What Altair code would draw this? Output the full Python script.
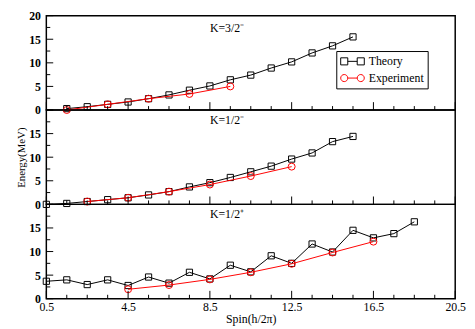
import altair as alt
import pandas as pd

# ---------------- data ----------------
th1_spin = [1.5, 2.5, 3.5, 4.5, 5.5, 6.5, 7.5, 8.5, 9.5, 10.5, 11.5, 12.5, 13.5, 14.5, 15.5]
th1_val = [0.3, 0.7, 1.2, 1.7, 2.4, 3.2, 4.2, 5.1, 6.4, 7.4, 8.9, 10.2, 12.1, 13.6, 15.5]
ex1_spin = [1.5, 3.5, 5.5, 7.5, 9.5]
ex1_val = [0.0, 1.2, 2.4, 3.4, 5.0]

th2_spin = [0.5, 1.5, 2.5, 3.5, 4.5, 5.5, 6.5, 7.5, 8.5, 9.5, 10.5, 11.5, 12.5, 13.5, 14.5, 15.5]
th2_val = [0.0, 0.2, 0.6, 1.0, 1.4, 2.0, 2.7, 3.7, 4.6, 5.7, 6.9, 8.1, 9.6, 10.9, 13.3, 14.4]
ex2_spin = [2.5, 4.5, 6.5, 8.5, 10.5, 12.5]
ex2_val = [0.6, 1.4, 2.7, 4.2, 6.0, 8.0]

th3_spin = [0.5, 1.5, 2.5, 3.5, 4.5, 5.5, 6.5, 7.5, 8.5, 9.5, 10.5, 11.5, 12.5, 13.5, 14.5, 15.5, 16.5, 17.5, 18.5]
th3_val = [3.7, 4.0, 3.0, 4.0, 2.8, 4.6, 3.3, 5.6, 4.2, 7.1, 5.7, 9.1, 7.5, 11.6, 9.9, 14.5, 12.9, 13.8, 16.3]
ex3_spin = [4.5, 6.5, 8.5, 10.5, 12.5, 14.5, 16.5]
ex3_val = [2.0, 2.9, 4.1, 5.6, 7.4, 9.8, 12.1]

panel_labels = ["K=3/2\u207b", "K=1/2\u207b", "K=1/2\u207a"]
series_names = ["Theory", "Experiment"]

x_major = [0.5, 4.5, 8.5, 12.5, 16.5, 20.5]
x_minor = [1.5, 2.5, 3.5, 5.5, 6.5, 7.5, 9.5, 10.5, 11.5, 13.5, 14.5, 15.5, 17.5, 18.5, 19.5]
y_major = [0, 5, 10, 15, 20]
y_minor = [2.5, 7.5, 12.5, 17.5]
y_labels_top = [0, 5, 10, 15, 20]
y_labels_other = [0, 5, 10, 15]

# ---------------- style ----------------
FONT = "Liberation Serif"
W, H = 416, 96
xs = alt.Scale(domain=[0.5, 20.5], nice=False, zero=False)
ys = alt.Scale(domain=[0, 20], nice=False, zero=False)

# legend glyphs: marker - line - marker (unit = 6 px at symbolSize 144)
sq_path = "M-1,-0.6H0.2V0.6H-1Z M0.2,0H1.8 M1.8,-0.6H3V0.6H1.8Z"
ci_path = ("M0.2,0A0.6,0.6 0 1,1 -1,0A0.6,0.6 0 1,1 0.2,0Z M0.2,0H1.8 "
           "M3,0A0.6,0.6 0 1,1 1.8,0A0.6,0.6 0 1,1 3,0Z")


def panel(th_s, th_v, ex_s, ex_v, label, label_y, y_vals, show_x, y_title, with_legend):
    th = pd.DataFrame({"spin": th_s, "energy": th_v})
    ex = pd.DataFrame({"spin": ex_s, "energy": ex_v})

    if show_x:
        xaxis = alt.Axis(values=x_major, format=".1f", ticks=False, tickSize=0, domain=False,
                         grid=False, labelFont=FONT, labelFontSize=12, labelPadding=3,
                         labelFlush=False, title="Spin(h/2\u03c0)", titleFont=FONT,
                         titleFontSize=12, titleFontWeight="normal", titlePadding=1)
    else:
        xaxis = alt.Axis(labels=False, ticks=False, tickSize=0, domain=False, grid=False, title=None)
    if y_title:
        yaxis = alt.Axis(values=y_vals, ticks=False, tickSize=0, domain=False, grid=False,
                         labelFont=FONT, labelFontSize=12, labelFontWeight="bold", labelPadding=6,
                         title=y_title, titleFont=FONT, titleFontSize=11,
                         titleFontWeight="normal", titleX=-20, titleBaseline="bottom")
    else:
        yaxis = alt.Axis(values=y_vals, ticks=False, tickSize=0, domain=False, grid=False,
                         labelFont=FONT, labelFontSize=12, labelFontWeight="bold", labelPadding=6,
                         title=None)

    def X(f):
        return alt.X(f, scale=xs, axis=xaxis)

    def Y(f):
        return alt.Y(f, scale=ys, axis=yaxis)

    base_th = alt.Chart(th).encode(x=X("spin:Q"), y=Y("energy:Q"))
    th_line = base_th.mark_line(color="black", strokeWidth=1)
    th_pts = base_th.mark_point(shape="square", filled=False, color="black", size=40,
                                strokeWidth=1, opacity=1)

    base_ex = alt.Chart(ex).encode(x=X("spin:Q"), y=Y("energy:Q"))
    ex_line = base_ex.mark_line(color="red", strokeWidth=1)
    ex_pts = base_ex.mark_point(shape="circle", filled=False, color="red", size=50,
                                strokeWidth=1, opacity=1)

    xmaj = alt.Chart(pd.DataFrame({"t": x_major})).mark_rule(color="black", strokeWidth=1).encode(
        x=X("t:Q"), y=alt.value(H), y2=alt.value(H - 8))
    xmin = alt.Chart(pd.DataFrame({"t": x_minor})).mark_rule(color="black", strokeWidth=1).encode(
        x=X("t:Q"), y=alt.value(H), y2=alt.value(H - 4))
    ymaj = alt.Chart(pd.DataFrame({"t": y_major})).mark_rule(color="black", strokeWidth=1).encode(
        y=Y("t:Q"), x=alt.value(0), x2=alt.value(7))
    ymin = alt.Chart(pd.DataFrame({"t": y_minor})).mark_rule(color="black", strokeWidth=1).encode(
        y=Y("t:Q"), x=alt.value(0), x2=alt.value(4))

    txt = alt.Chart(pd.DataFrame({"label": [label]})).mark_text(
        font=FONT, fontSize=12, align="left", baseline="middle", color="black"
    ).encode(x=alt.datum(8.5, scale=xs, axis=xaxis), y=alt.datum(label_y, scale=ys, axis=yaxis),
             text="label:N")

    layers = [th_line, th_pts, ex_line, ex_pts, xmaj, xmin, ymaj, ymin, txt]

    if with_legend:
        lg = pd.DataFrame({"series": series_names, "spin": [1.0, 1.0], "energy": [1.0, 1.0]})
        leg = alt.Legend(orient="none", legendX=295, legendY=36, title=None,
                         symbolSize=144, symbolStrokeWidth=1, labelFont=FONT, labelFontSize=12,
                         strokeColor="black", fillColor="white", padding=4, rowPadding=4,
                         labelOffset=16, symbolOpacity=1)
        leg_layer = alt.Chart(lg).mark_point(filled=False, opacity=1, strokeWidth=1).encode(
            x=X("spin:Q"),
            y=Y("energy:Q"),
            color=alt.Color("series:N", scale=alt.Scale(domain=series_names, range=["black", "red"]),
                            legend=leg),
            shape=alt.Shape("series:N", scale=alt.Scale(domain=series_names, range=[sq_path, ci_path]),
                            legend=leg),
        ).transform_filter("false")
        layers.append(leg_layer)

    return alt.layer(*layers).properties(width=W, height=H)


p1 = panel(th1_spin, th1_val, ex1_spin, ex1_val, panel_labels[0], 17.3, y_labels_top, False, None, True)
p2 = panel(th2_spin, th2_val, ex2_spin, ex2_val, panel_labels[1], 17.9, y_labels_other, False, "Energy(MeV)", False)
p3 = panel(th3_spin, th3_val, ex3_spin, ex3_val, panel_labels[2], 17.9, y_labels_other, True, None, False)

chart = alt.vconcat(p1, p2, p3, spacing=0, bounds="flush").properties(
    padding={"left": 7, "top": -2, "right": 0, "bottom": 0}
).configure_view(stroke="black", strokeWidth=1.5).configure_concat(spacing=0)

chart.save("out.html", embed_options={"renderer": "svg", "actions": False})
